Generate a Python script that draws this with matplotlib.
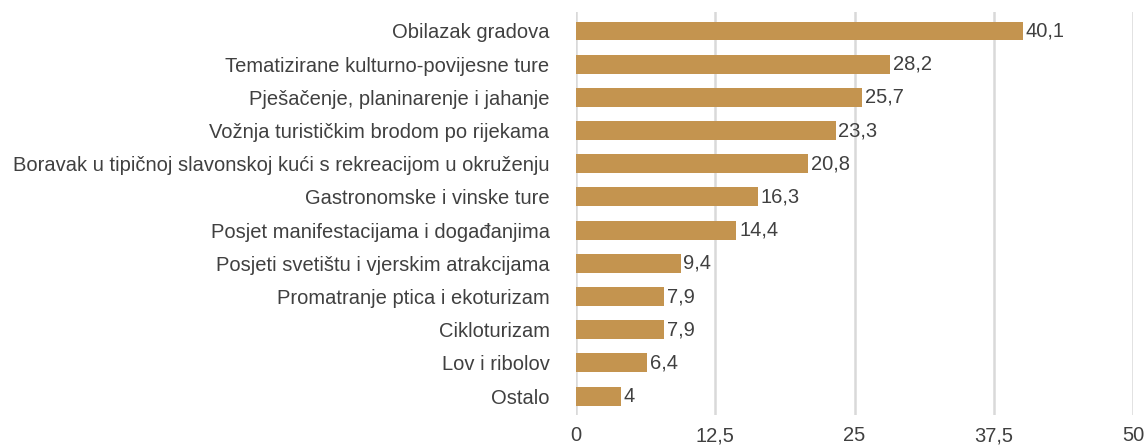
import matplotlib.pyplot as plt

# Daten
kategorije = ["Obilazak gradova", "Tematizirane kulturno-povijesne ture",
              "Pješačenje, planinarenje i jahanje", "Vožnja turističkim brodom po rijekama",
              "Boravak u tipičnoj slavonskoj kući s rekreacijom u okruženju",
              "Gastronomske i vinske ture", "Posjet manifestacijama i događanjima",
              "Posjeti svetištu i vjerskim atrakcijama", "Promatranje ptica i ekoturizam",
              "Cikloturizam", "Lov i ribolov", "Ostalo"]
vrijednosti = [40.1, 28.2, 25.7, 23.3, 20.8, 16.3, 14.4, 9.4, 7.9, 7.9, 6.4, 4]
xticks = [0, 12.5, 25, 37.5, 50]
xtick_labels = ["0", "12,5", "25", "37,5", "50"]

plt.rcParams['font.family'] = ['Liberation Sans', 'DejaVu Sans']
tekst = "#404040"
fs = 14.5

fig = plt.figure(figsize=(11.46, 4.46), dpi=100)
ax = fig.add_axes([0.5026, 0.0695, 0.4861, 0.9035])

pozicije = list(range(len(kategorije)))
ax.barh(pozicije, vrijednosti, height=0.57, color="#C4944F", zorder=3)

for p, v in zip(pozicije, vrijednosti):
    oznaka = f"{v:g}".replace(".", ",")
    ax.text(v + 0.25, p, oznaka, va="center", ha="left", fontsize=fs, color=tekst)

ax.set_ylim(len(kategorije) - 0.43, -0.57)
ax.set_yticks(pozicije)
ax.set_yticklabels(kategorije, fontsize=fs, color=tekst)
ax.set_xlim(0, 50)
ax.set_xticks(xticks)
ax.set_xticklabels(xtick_labels, fontsize=fs, color=tekst)

ax.grid(axis="x", color="#d9d9d9", linewidth=1.8, zorder=0)
for s in ax.spines.values():
    s.set_visible(False)
ax.tick_params(length=0)
ax.tick_params(axis="y", pad=19)
ax.tick_params(axis="x", pad=8)

fig.savefig("out.png", dpi=100)
